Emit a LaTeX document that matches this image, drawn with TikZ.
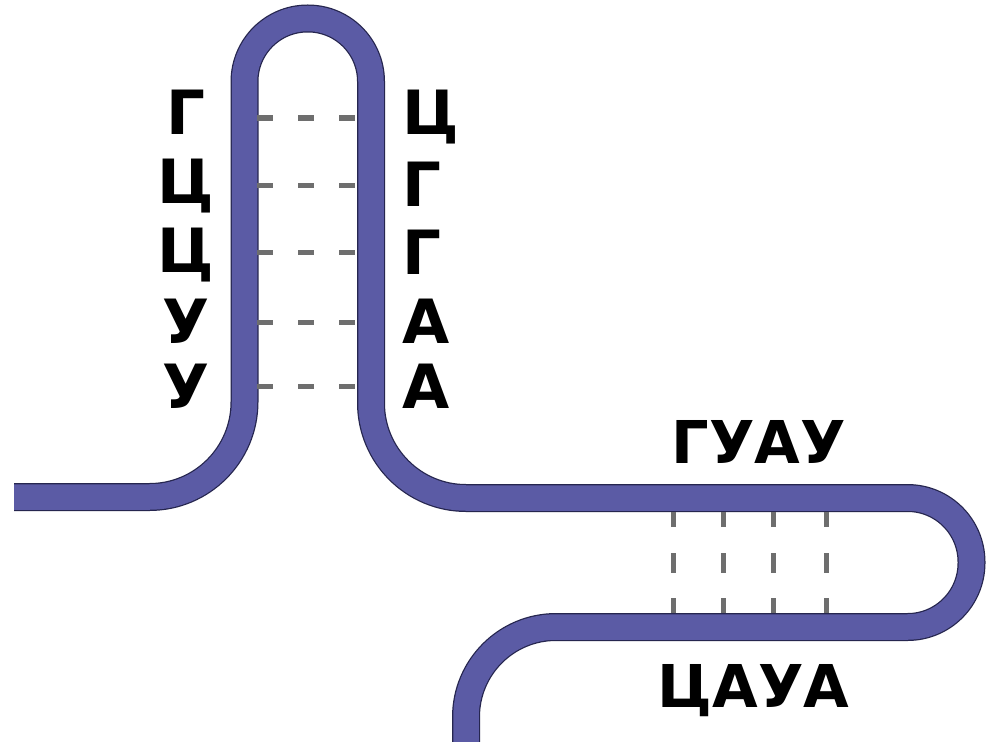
\documentclass[tikz,border=0pt]{standalone}
\usepackage{fontspec}
\setmainfont{DejaVu Sans}
\newfontfamily\lblfont{DejaVu Sans}[BoldFont={DejaVu Sans Bold}]
\definecolor{strandfill}{HTML}{5B5BA5}
\definecolor{strandline}{HTML}{26264F}
\definecolor{pairgray}{HTML}{6E6E6E}
\tikzset{
  stemletter/.style={inner sep=0pt, font=\lblfont\bfseries\fontsize{61}{70}\selectfont},
  loopletter/.style={inner sep=0pt, font=\lblfont\bfseries\fontsize{59}{66}\selectfont},
  hpair/.style={draw=pairgray, line width=5pt, dash pattern=on 16pt off 25pt},
  vpair/.style={draw=pairgray, line width=5pt, dash pattern=on 15pt off 26pt on 20pt off 25pt on 15pt off 20pt},
  strandout/.style={draw=strandline, line width=28pt, line cap=butt, line join=round},
  strandin/.style={draw=strandfill, line width=25.5pt, line cap=butt, line join=round},
}
\def\strandpath{(14,497) [rounded corners=95pt] -- (244.5,497) [rounded corners=63pt] -- (244.5,18.5) -- (371,18.5) [rounded corners=95pt] -- (371,498) [rounded corners=64pt] -- (971.5,498) -- (971.5,627) [rounded corners=90pt] -- (466,627) -- (466,760)}
\begin{document}
\begin{tikzpicture}[x=1pt,y=-1pt]
\useasboundingbox (0,0) rectangle (992,741);
\fill[white] (0,0) rectangle (992,741);
% strand
\draw[strandout] \strandpath;
\draw[strandin] \strandpath;
% stem pair endpoints and dashes
\foreach \i/\y in {1/118,2/185,3/252,4/322,5/386}{
  \coordinate (sl\i) at (257,\y);
  \coordinate (sr\i) at (358,\y);
  \draw[hpair] (sl\i) -- (sr\i);
}
% loop pair endpoints and dashes
\foreach \i/\x in {1/673,2/723,3/773,4/826}{
  \coordinate (lt\i) at (\x,512);
  \coordinate (lb\i) at (\x,613);
  \draw[vpair] (lt\i) -- (lb\i);
}
% left stem letters
\node[stemletter, anchor=base] (L1) at (186,135) {Г};
\node[stemletter, anchor=base] (L2) at (186,203) {Ц};
\node[stemletter, anchor=base] (L3) at (186,272) {Ц};
\node[stemletter, anchor=base] (L4) at (186,343) {У};
\node[stemletter, anchor=base] (L5) at (186,408) {У};
% right stem letters
\node[stemletter, anchor=base west] (R1) at (402,135) {Ц};
\node[stemletter, anchor=base west] (R2) at (402,206) {Г};
\node[stemletter, anchor=base west] (R3) at (402,274) {Г};
\node[stemletter, anchor=base west] (R4) at (402,343) {А};
\node[stemletter, anchor=base west] (R5) at (402,408) {А};
% loop letters
\node[loopletter, anchor=base] (top) at (759,463) {ГУАУ};
\node[loopletter, anchor=base] (bot) at (753.5,707) {ЦАУА};
\end{tikzpicture}
\end{document}
